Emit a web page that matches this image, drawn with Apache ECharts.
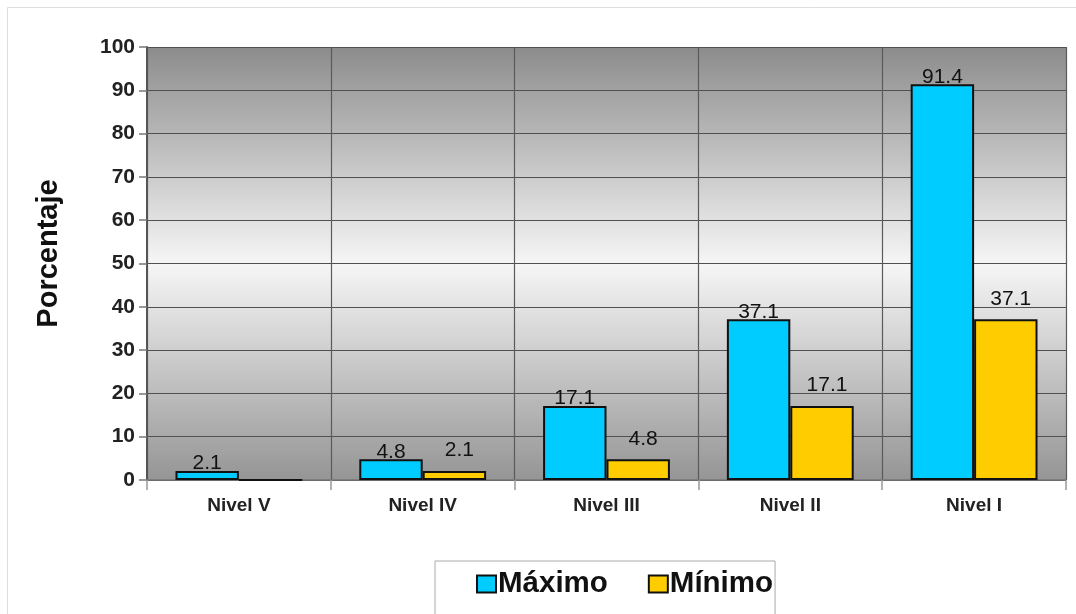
<!DOCTYPE html>
<html>
<head>
<meta charset="utf-8">
<script src="https://cdn.jsdelivr.net/npm/echarts@6/dist/echarts.min.js"></script>
<style>
  html, body { margin: 0; padding: 0; background: #fff; }
  #chart { width: 1076px; height: 614px; }
</style>
</head>
<body>
<div id="chart"></div>
<script>
var categories = ["Nivel V", "Nivel IV", "Nivel III", "Nivel II", "Nivel I"];
var maximo = [2.1, 4.8, 17.1, 37.1, 91.4];
var minimo = [0, 2.1, 4.8, 17.1, 37.1];
var yTicks = [0, 100, 10];

var myChart = echarts.init(document.getElementById("chart"));

// the zero bar of Nivel V carries no label
var minimoData = minimo.map(function (v) {
  return v === 0 ? { value: v, label: { show: false } } : v;
});

var option = {
  backgroundColor: "#fff",
  animation: false,
  textStyle: { fontFamily: "Liberation Sans, Arial, sans-serif" },
  graphic: [
    {
      type: "rect",
      shape: { x: 7.5, y: 7.5, width: 1100, height: 700 },
      style: { fill: "none", stroke: "#ddd", lineWidth: 1 },
      z: -1
    }
  ],
  grid: {
    left: 147,
    right: 10,
    top: 47,
    bottom: 134,
    show: true,
    borderWidth: 0,
    backgroundColor: {
      type: "linear", x: 0, y: 0, x2: 0, y2: 1,
      colorStops: [
        { offset: 0, color: "#8c8c8c" },
        { offset: 0.5, color: "#f6f6f6" },
        { offset: 1, color: "#959595" }
      ]
    }
  },
  legend: {
    data: ["Máximo", "Mínimo"],
    left: 435,
    top: 561,
    padding: [8, 2, 40, 41],
    borderColor: "#aaa",
    borderWidth: 1,
    itemWidth: 19,
    itemHeight: 17,
    itemGap: 40,
    icon: "rect",
    textStyle: { fontSize: 29.5, fontWeight: "bold", color: "#111", padding: [0, 0, 0, -3] }
  },
  xAxis: {
    type: "category",
    data: categories,
    axisLine: { lineStyle: { color: "#777", width: 1.5 } },
    axisTick: { show: true, length: 10, lineStyle: { color: "#999", width: 1.5 } },
    axisLabel: { fontSize: 19, fontWeight: "bold", color: "#222", margin: 16 },
    splitLine: { show: true, lineStyle: { color: "#5a5a5a", width: 1.2 } }
  },
  yAxis: {
    type: "value",
    min: yTicks[0],
    max: yTicks[1],
    interval: yTicks[2],
    name: "Porcentaje",
    nameLocation: "middle",
    nameGap: 84,
    nameTextStyle: { fontSize: 29, fontWeight: "bold", color: "#111", padding: [0, 0, 0, 20] },
    axisLine: { show: true, lineStyle: { color: "#555", width: 2 } },
    axisTick: { show: true, length: 8, lineStyle: { color: "#777", width: 1.5 } },
    axisLabel: { fontSize: 21, fontWeight: "bold", color: "#222", margin: 12 },
    splitLine: { show: true, lineStyle: { color: "#505050", width: 1.2 } }
  },
  series: [
    {
      name: "Máximo",
      type: "bar",
      data: maximo,
      barGap: "0%",
      barCategoryGap: "31%",
      itemStyle: { color: "#00ccff", borderColor: "#111", borderWidth: 2 },
      label: { show: true, position: "top", distance: -3, fontSize: 21, color: "#111" }
    },
    {
      name: "Mínimo",
      type: "bar",
      data: minimoData,
      itemStyle: { color: "#ffcc00", borderColor: "#111", borderWidth: 2 },
      label: { show: true, position: "top", distance: 10, offset: [5, 0], fontSize: 21, color: "#111" }
    }
  ]
};

myChart.setOption(option);
</script>
</body>
</html>
